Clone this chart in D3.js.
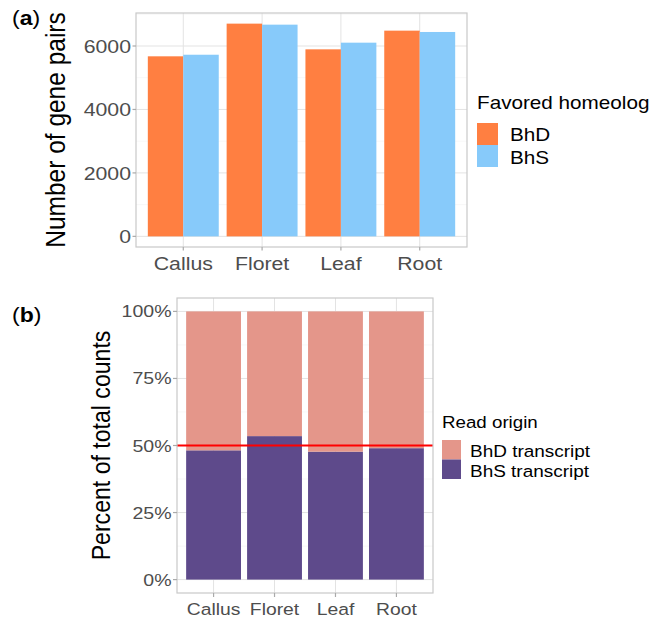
<!DOCTYPE html>
<html><head><meta charset="utf-8">
<script src="https://cdn.jsdelivr.net/npm/d3@7"></script>
<style>body{margin:0;background:#fff}svg{display:block;font-family:"Liberation Sans",Arial,sans-serif}</style>
</head><body><svg id="c" width="662" height="619"></svg>
<script>
// ---- data ----
const tissues = ["Callus", "Floret", "Leaf", "Root"];
const homeologs = ["BhD", "BhS"];
const bhdPairs = [5675, 6705, 5895, 6484];
const bhsPairs = [5725, 6673, 6105, 6442];
const pairTicks = [0, 2000, 4000, 6000];
const readOrigins = ["BhD transcript", "BhS transcript"];
const bhsShare = [0.482, 0.535, 0.477, 0.490];
const pctTicks = [0, 0.25, 0.5, 0.75, 1];
const pctTickLabels = ["0%", "25%", "50%", "75%", "100%"];

const colA = {BhD: "#FF7F41", BhS: "#87CAFA"};
const colB = {"BhD transcript": "#E4968A", "BhS transcript": "#5E4A8B"};
const SX = 1.15; // horizontal stretch of text in the reference

const svg = d3.select("#c");

function txt(g, x, y, s, size, opts = {}) {
  const t = g.append("text")
    .attr("transform", `translate(${x},${y})` + (opts.rot ? ` rotate(-90) scale(1,${SX})` : ` scale(${SX},1)`))
    .attr("font-size", size)
    .attr("fill", opts.fill || "#000")
    .attr("text-anchor", opts.anchor || "start")
    .attr("font-weight", opts.weight || "normal")
    .text(s);
  return t;
}

function panel(L, R, T, B, x, y, yMajor, yMinor, xCenters) {
  const g = svg.append("g");
  yMinor.forEach(v => g.append("line").attr("x1", L).attr("x2", R).attr("y1", y(v)).attr("y2", y(v))
    .attr("stroke", "#f1f1f1").attr("stroke-width", 0.6));
  yMajor.forEach(v => g.append("line").attr("x1", L).attr("x2", R).attr("y1", y(v)).attr("y2", y(v))
    .attr("stroke", "#e3e3e3").attr("stroke-width", 1));
  xCenters.forEach(c => g.append("line").attr("x1", c).attr("x2", c).attr("y1", T).attr("y2", B)
    .attr("stroke", "#e3e3e3").attr("stroke-width", 1));
  return g;
}

// ================= Panel (a) =================
{
  const L = 136, R = 467, T = 13, B = 247;
  const maxV = d3.max(bhdPairs.concat(bhsPairs));
  const y = d3.scaleLinear().domain([-0.05 * maxV, 1.05 * maxV]).range([B, T]);
  const x = d3.scaleBand().domain(tissues).range([L, R]).paddingInner(0.1).paddingOuter(0.55);
  // emulate ggplot: unit = (R-L)/4.2, bar width 0.9 unit
  const unit = (R - L) / 4.2;
  const cx = t => L + unit * (0.6 + tissues.indexOf(t));
  const xs = d3.scaleBand().domain(homeologs).range([-0.45 * unit, 0.45 * unit]);

  const minors = [1000, 3000, 5000, 7000];
  const g = panel(L, R, T, B, cx, y, pairTicks, minors, tissues.map(cx));

  const rows = [];
  tissues.forEach((t, i) => { rows.push({t, h: "BhD", v: bhdPairs[i]}); rows.push({t, h: "BhS", v: bhsPairs[i]}); });
  g.selectAll("rect.bar").data(rows).join("rect")
    .attr("x", d => cx(d.t) + xs(d.h)).attr("width", xs.bandwidth())
    .attr("y", d => y(d.v)).attr("height", d => y(0) - y(d.v))
    .attr("fill", d => colA[d.h]);

  g.append("rect").attr("x", L).attr("y", T).attr("width", R - L).attr("height", B - T)
    .attr("fill", "none").attr("stroke", "#c9c9c9").attr("stroke-width", 1.2);

  // y axis ticks & labels
  pairTicks.forEach(v => {
    g.append("line").attr("x1", L - 3.5).attr("x2", L).attr("y1", y(v)).attr("y2", y(v)).attr("stroke", "#aaa").attr("stroke-width", 1.2);
    txt(g, L - 5, y(v) + 6.7, String(v), 18.5, {anchor: "end", fill: "#4d4d4d"});
  });
  tissues.forEach(t => {
    g.append("line").attr("x1", cx(t)).attr("x2", cx(t)).attr("y1", B).attr("y2", B + 3.5).attr("stroke", "#aaa").attr("stroke-width", 1.2);
    txt(g, cx(t), 270, t, 18.5, {anchor: "middle", fill: "#4d4d4d"});
  });
  txt(g, 65, (T + B) / 2, "Number of gene pairs", 24.5, {rot: true, anchor: "middle"});
  txt(g, 12, 25, "(", 20); 
  const ta = txt(g, 12, 25, "", 20);
  ta.append("tspan").text("(");
  ta.append("tspan").attr("font-weight", "bold").text("a");
  ta.append("tspan").text(")");
  g.selectAll("text").filter(function(){return this.textContent === "(" && this.childNodes.length === 1;}).remove();

  // legend
  txt(g, 477, 109, "Favored homeolog", 18);
  homeologs.forEach((h, i) => {
    g.append("rect").attr("x", 477).attr("y", 123 + i * 22).attr("width", 21).attr("height", 22).attr("fill", colA[h]);
    txt(g, 510, 141 + i * 23, h, 18);
  });
}

// ================= Panel (b) =================
{
  const L = 177, R = 433, T = 298, B = 593;
  const y = d3.scaleLinear().domain([-0.05, 1.05]).range([B, T]);
  const unit = (R - L) / 4.2;
  const cx = t => L + unit * (0.6 + tissues.indexOf(t));
  const bw = 0.9 * unit;

  const minors = [0.125, 0.375, 0.625, 0.875];
  const g = panel(L, R, T, B, cx, y, pctTicks, minors, tissues.map(cx));

  const stackRows = tissues.map((t, i) => ({t, "BhS transcript": bhsShare[i], "BhD transcript": 1 - bhsShare[i]}));
  const series = d3.stack().keys(["BhS transcript", "BhD transcript"])(stackRows);
  series.forEach(s => {
    g.selectAll(null).data(s).join("rect")
      .attr("x", d => cx(d.data.t) - bw / 2).attr("width", bw)
      .attr("y", d => y(d[1])).attr("height", d => y(d[0]) - y(d[1]))
      .attr("fill", colB[s.key]);
  });

  g.append("line").attr("x1", L).attr("x2", R).attr("y1", y(0.5)).attr("y2", y(0.5))
    .attr("stroke", "#FF0000").attr("stroke-width", 2.2);

  g.append("rect").attr("x", L).attr("y", T).attr("width", R - L).attr("height", B - T)
    .attr("fill", "none").attr("stroke", "#c9c9c9").attr("stroke-width", 1.2);

  pctTicks.forEach((v, i) => {
    g.append("line").attr("x1", L - 4).attr("x2", L).attr("y1", y(v)).attr("y2", y(v)).attr("stroke", "#aaa").attr("stroke-width", 1.2);
    txt(g, L - 5.5, y(v) + 6, pctTickLabels[i], 17, {anchor: "end", fill: "#4d4d4d"});
  });
  tissues.forEach(t => {
    g.append("line").attr("x1", cx(t)).attr("x2", cx(t)).attr("y1", B).attr("y2", B + 4).attr("stroke", "#aaa").attr("stroke-width", 1.2);
    txt(g, cx(t), 615, t, 16.8, {anchor: "middle", fill: "#4d4d4d"});
  });
  txt(g, 110, (T + B) / 2, "Percent of total counts", 23.1, {rot: true, anchor: "middle"});
  const tb = txt(g, 12, 322, "", 20);
  tb.append("tspan").text("(");
  tb.append("tspan").attr("font-weight", "bold").text("b");
  tb.append("tspan").text(")");

  txt(g, 442, 428, "Read origin", 16.3);
  ["BhD transcript", "BhS transcript"].forEach((k, i) => {
    g.append("rect").attr("x", 442).attr("y", 440 + i * 19.5).attr("width", 19).attr("height", 19.5).attr("fill", colB[k]);
    txt(g, 470, 456.5 + i * 20.5, k, 16.5);
  });
}
</script>
</body></html>
